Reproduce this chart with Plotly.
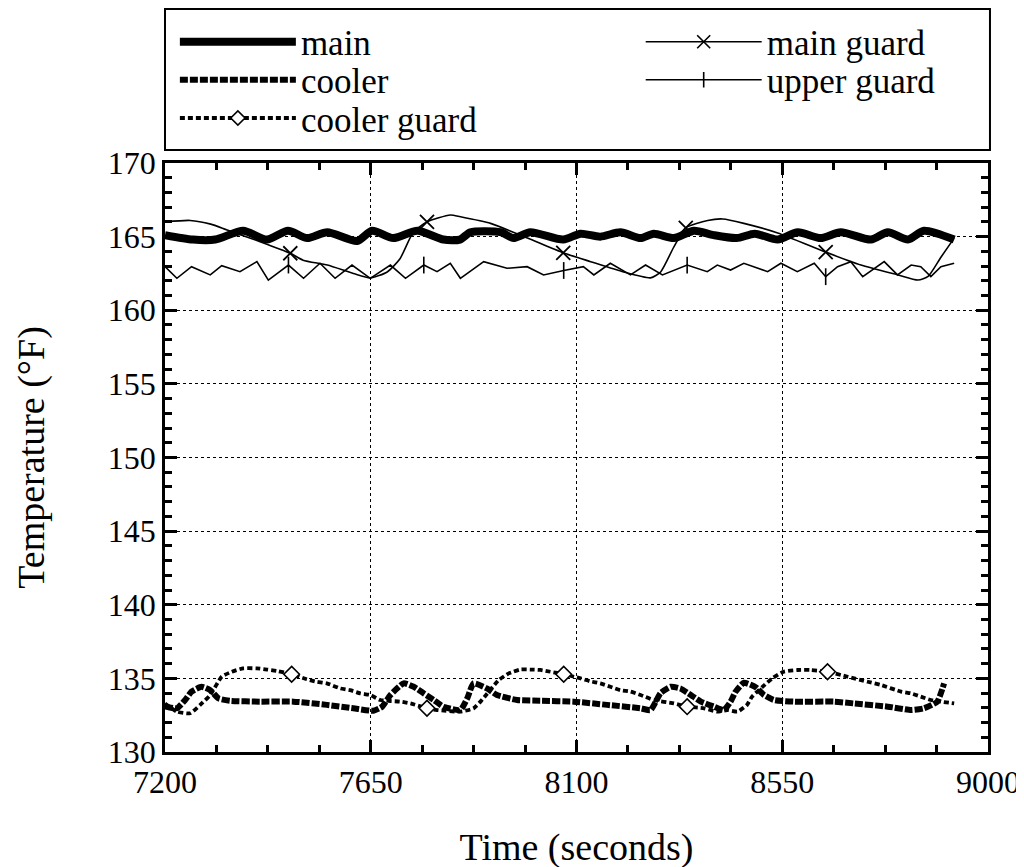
import plotly.graph_objects as go

# ---------------- data ----------------
main_t = [7200, 7261, 7310, 7371, 7423, 7469, 7511, 7555, 7620, 7653, 7699, 7752, 7809, 7845,
          7868, 7934, 7962, 7999, 8071, 8109, 8152, 8196, 8240, 8269, 8313, 8357, 8400, 8450,
          8490, 8540, 8584, 8634, 8678, 8744, 8781, 8825, 8860, 8926]
main_v = [165.1, 164.8, 164.8, 165.4, 164.8, 165.4, 164.9, 165.3, 164.7, 165.4, 164.9, 165.4, 164.8, 164.8,
          165.3, 165.3, 164.9, 165.3, 164.8, 165.2, 165.0, 165.3, 164.9, 165.2, 164.9, 165.4, 165.1, 164.9,
          165.2, 164.8, 165.3, 164.9, 165.3, 164.8, 165.3, 164.8, 165.4, 164.8]

cooler_t = [7200, 7226, 7244, 7258, 7280, 7299, 7317, 7342, 7408, 7481, 7554, 7612, 7656, 7675,
            7693, 7722, 7744, 7766, 7788, 7809, 7846, 7861, 7875, 7904, 7926, 7970, 8021, 8094,
            8167, 8240, 8262, 8284, 8306, 8328, 8350, 8372, 8401, 8422, 8437, 8448, 8466, 8492,
            8510, 8532, 8577, 8663, 8706, 8781, 8832, 8860, 8889, 8904]
cooler_v = [133.1, 132.97, 133.53, 134.1, 134.43, 134.2, 133.64, 133.48, 133.42, 133.42, 133.2, 132.97, 132.8, 133.08,
            133.87, 134.66, 134.43, 133.98, 133.53, 133.08, 132.85, 133.64, 134.66, 134.32, 133.87, 133.53, 133.48, 133.42,
            133.2, 132.97, 132.85, 134.0, 134.43, 134.3, 133.87, 133.42, 133.08, 132.85, 133.42, 134.1, 134.7, 134.4,
            133.87, 133.53, 133.42, 133.42, 133.3, 133.08, 132.85, 132.97, 133.42, 134.66]

cguard_t = [7200, 7226, 7255, 7277, 7299, 7324, 7346, 7371, 7401, 7423, 7445, 7477, 7510, 7532,
            7554, 7583, 7605, 7627, 7649, 7671, 7715, 7737, 7773, 7795, 7846, 7875, 7893, 7930,
            7952, 7977, 7999, 8021, 8043, 8072, 8109, 8130, 8152, 8174, 8196, 8218, 8240, 8269,
            8313, 8342, 8379, 8408, 8430, 8452, 8473, 8484, 8506, 8528, 8553, 8584, 8612, 8649,
            8693, 8737, 8766, 8810, 8832, 8853, 8875, 8897, 8926]
cguard_v = [133.3, 132.74, 132.63, 133.2, 133.87, 135.11, 135.45, 135.68, 135.68, 135.6, 135.5, 135.28, 134.94, 134.77,
            134.66, 134.32, 134.2, 133.98, 133.87, 133.53, 133.42, 133.3, 132.97, 132.85, 132.74, 132.97, 133.53, 134.89,
            135.34, 135.6, 135.6, 135.57, 135.45, 135.28, 135.0, 134.8, 134.66, 134.43, 134.2, 134.1, 133.87, 133.53,
            133.3, 133.08, 132.97, 132.74, 132.85, 132.74, 133.2, 133.76, 134.4, 135.0, 135.45, 135.57, 135.57, 135.45,
            135.11, 134.77, 134.55, 134.1, 133.98, 133.76, 133.53, 133.42, 133.3]
cguard_marks = [11, 22, 33, 43, 55]

mguard_t = [7200, 7255, 7300, 7336, 7408, 7474, 7502, 7555, 7612, 7649, 7686, 7714, 7743, 7773,
            7824, 7846, 7912, 7993, 8071, 8131, 8203, 8262, 8284, 8313, 8339, 8387, 8420, 8466,
            8540, 8645, 8722, 8803, 8847, 8869, 8897, 8926]
mguard_v = [166.0, 166.1, 165.85, 165.45, 164.66, 163.87, 163.4, 163.07, 162.5, 162.2, 162.6, 163.5, 165.3, 166.0,
            166.47, 166.35, 165.9, 164.9, 163.9, 163.3, 162.6, 162.2, 162.6, 164.3, 165.6, 166.1, 166.2, 165.9,
            165.25, 163.95, 163.07, 162.4, 162.05, 162.3, 163.6, 164.9]
mguard_marks = [5, 13, 18, 24, 29]

uguard_t = [7200, 7226, 7258, 7299, 7324, 7364, 7401, 7426, 7470, 7503, 7539, 7572, 7609, 7649,
            7693, 7726, 7766, 7795, 7824, 7846, 7897, 7948, 7992, 8028, 8072, 8115, 8138, 8174,
            8218, 8251, 8288, 8342, 8386, 8408, 8437, 8466, 8518, 8547, 8583, 8620, 8645, 8671,
            8700, 8726, 8773, 8802, 8832, 8853, 8875, 8897, 8926]
uguard_v = [162.96, 162.17, 162.96, 162.4, 163.03, 162.62, 163.3, 162.05, 163.07, 162.17, 163.19, 162.17, 163.07, 162.17,
            163.07, 162.17, 163.07, 162.62, 163.19, 162.17, 163.3, 162.85, 162.96, 162.4, 162.7, 162.96, 162.4, 163.19,
            162.4, 163.07, 162.4, 163.07, 162.62, 163.07, 162.73, 163.19, 162.62, 163.19, 162.62, 163.19, 162.28, 162.96,
            163.3, 162.28, 163.3, 162.4, 163.07, 162.96, 162.28, 162.96, 163.19]
uguard_marks = [8, 16, 24, 31, 40]

x_ticks = [7200, 7650, 8100, 8550, 9000]
y_ticks = [130, 135, 140, 145, 150, 155, 160, 165, 170]

FONT = "Liberation Serif, Times New Roman, Times, serif"
BLACK = "black"

fig = go.Figure()


def pick(arr, idx):
    return [arr[i] for i in idx]


# --- main (thick solid) ---
fig.add_trace(go.Scatter(x=main_t, y=main_v, mode="lines", name="main", legend="legend",
                         line=dict(color=BLACK, width=8, shape="spline", smoothing=0.7)))
# --- cooler (thick dashed) ---
fig.add_trace(go.Scatter(x=cooler_t, y=cooler_v, mode="lines", name="cooler", legend="legend2",
                         line=dict(color=BLACK, width=6, dash="8px,2px", shape="spline", smoothing=0.5)))
# --- cooler guard (dotted with diamonds) ---
fig.add_trace(go.Scatter(x=cguard_t, y=cguard_v, mode="lines", showlegend=False,
                         line=dict(color=BLACK, width=3.8, dash="5px,3px", shape="spline", smoothing=0.5)))
fig.add_trace(go.Scatter(x=pick(cguard_t, cguard_marks), y=pick(cguard_v, cguard_marks), mode="markers",
                         showlegend=False,
                         marker=dict(symbol="diamond", size=12, color="white",
                                     line=dict(color=BLACK, width=1.6))))
fig.add_trace(go.Scatter(x=[None], y=[None], mode="lines+markers", name="cooler guard", legend="legend3",
                         line=dict(color=BLACK, width=3.8, dash="5px,3px"),
                         marker=dict(symbol="diamond", size=11, color="white",
                                     line=dict(color=BLACK, width=1.6))))
# --- main guard (thin with x markers) ---
fig.add_trace(go.Scatter(x=mguard_t, y=mguard_v, mode="lines", showlegend=False,
                         line=dict(color=BLACK, width=1.6, shape="spline", smoothing=0.6)))
fig.add_trace(go.Scatter(x=pick(mguard_t, mguard_marks), y=pick(mguard_v, mguard_marks), mode="markers",
                         showlegend=False,
                         marker=dict(symbol="x-thin-open", size=14, color=BLACK,
                                     line=dict(color=BLACK, width=1.8))))
fig.add_trace(go.Scatter(x=[None], y=[None], mode="lines+markers", name="main guard", legend="legend4",
                         line=dict(color=BLACK, width=1.6),
                         marker=dict(symbol="x-thin-open", size=13, color=BLACK,
                                     line=dict(color=BLACK, width=1.6))))
# --- upper guard (thin with tick markers) ---
fig.add_trace(go.Scatter(x=uguard_t, y=uguard_v, mode="lines", showlegend=False,
                         line=dict(color=BLACK, width=1.6)))
fig.add_trace(go.Scatter(x=pick(uguard_t, uguard_marks), y=pick(uguard_v, uguard_marks), mode="markers",
                         showlegend=False,
                         marker=dict(symbol="line-ns-open", size=12, color=BLACK,
                                     line=dict(color=BLACK, width=1.6))))
fig.add_trace(go.Scatter(x=[None], y=[None], mode="lines+markers", name="upper guard", legend="legend5",
                         line=dict(color=BLACK, width=1.6),
                         marker=dict(symbol="line-ns-open", size=11, color=BLACK,
                                     line=dict(color=BLACK, width=1.6))))

axis_common = dict(
    showline=True, linecolor=BLACK, linewidth=2.5, mirror="ticks",
    ticks="inside", ticklen=12, tickwidth=2.5, tickcolor=BLACK,
    showgrid=True, gridcolor=BLACK, gridwidth=1, griddash="dot",
    zeroline=False,
    tickfont=dict(family=FONT, size=32, color=BLACK),
)

fig.update_xaxes(range=[7200, 9000], tickmode="array", tickvals=x_ticks,
                 ticktext=[str(v) for v in x_ticks],
                 minor=dict(dtick=112.5, tick0=7200, ticks="inside", ticklen=7, tickwidth=2.5,
                            tickcolor=BLACK, showgrid=False),
                 title=dict(text="Time (seconds)", font=dict(family=FONT, size=38, color=BLACK),
                            standoff=35),
                 **axis_common)
fig.update_yaxes(range=[130, 170], tickmode="array", tickvals=y_ticks,
                 ticktext=[str(v) for v in y_ticks],
                 minor=dict(dtick=1, tick0=130, ticks="inside", ticklen=7, tickwidth=2.5,
                            tickcolor=BLACK, showgrid=False),
                 title=dict(text="Temperature (°F)", font=dict(family=FONT, size=38, color=BLACK),
                            standoff=52),
                 **axis_common)

# legend box frame
fig.add_shape(type="rect", xref="paper", yref="paper", x0=0.0, x1=1.0024, y0=1.0221, y1=1.2615,
              line=dict(color=BLACK, width=2), fillcolor="rgba(0,0,0,0)")

leg_common = dict(xanchor="left", yanchor="middle", itemwidth=116,
                  font=dict(family=FONT, size=35, color=BLACK),
                  bgcolor="rgba(0,0,0,0)", borderwidth=0)

fig.update_layout(
    width=1024, height=867,
    margin=dict(l=157, r=44, t=155, b=123, autoexpand=False),
    paper_bgcolor="white", plot_bgcolor="white",
    font=dict(family=FONT, size=32, color=BLACK),
    showlegend=True,
    legend=dict(x=0.012, y=1.2054, **leg_common),
    legend2=dict(x=0.012, y=1.1410, **leg_common),
    legend3=dict(x=0.012, y=1.0760, **leg_common),
    legend4=dict(x=0.578, y=1.2054, **leg_common),
    legend5=dict(x=0.578, y=1.1410, **leg_common),
)

fig.write_html("out.html")
